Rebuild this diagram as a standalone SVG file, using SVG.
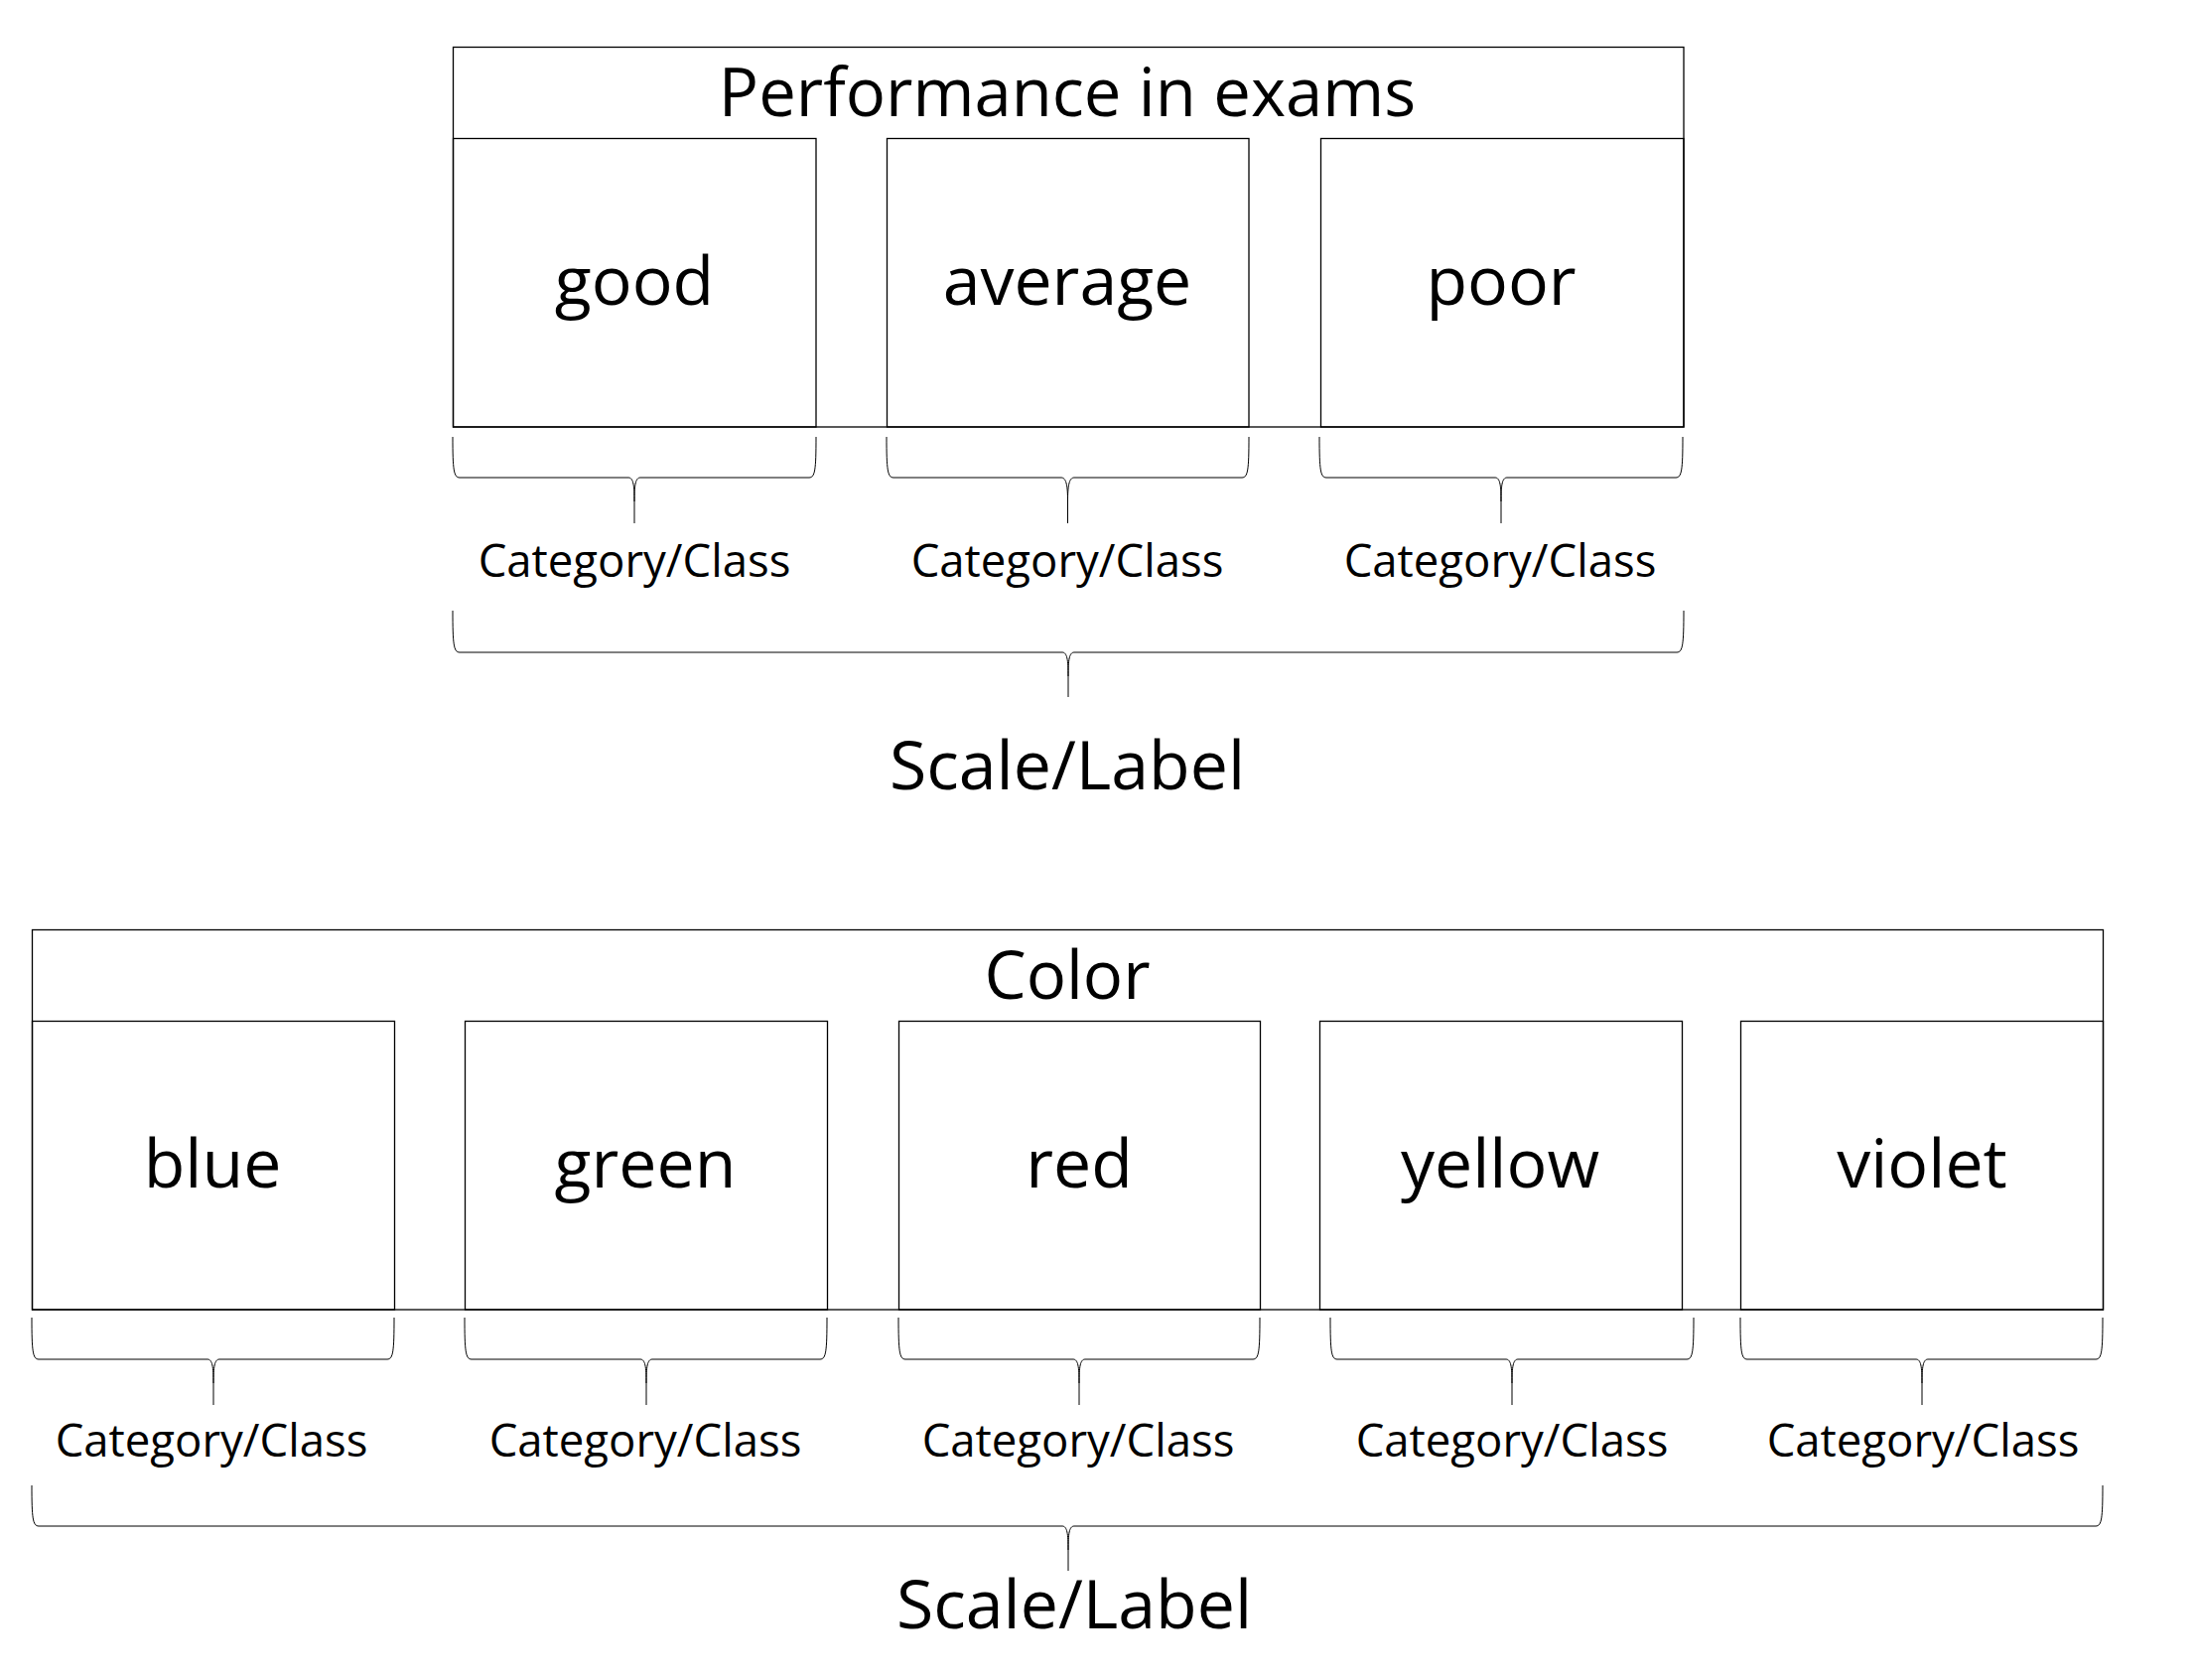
<svg xmlns="http://www.w3.org/2000/svg" width="2212" height="1692" viewBox="0 0 2212 1692">
<style>
.frame{fill:none;stroke:#000;stroke-width:1.3}
.box{fill:none;stroke:#000;stroke-width:1.3}
.brace{fill:none;stroke:#000;stroke-width:1}
.t{font-family:"Open Sans","Noto Sans",sans-serif;fill:#000;text-anchor:middle}
.big{font-size:68px}
.head{font-size:67px}
.small{font-size:45.5px}
</style>
<rect x="0" y="0" width="2212" height="1692" fill="#fff"/>

<!-- Top section -->
<g id="performance">
  <rect class="frame" x="456.5" y="47.5" width="1239.5" height="382.5"/>
  <text class="t head" x="1075" y="117">Performance in exams</text>
</g>
<g id="good">
  <rect class="box" x="456.5" y="139.5" width="365.5" height="290.5"/>
  <text class="t big" x="639" y="307">good</text>
</g>
<g id="average">
  <rect class="box" x="893.5" y="139.5" width="364.5" height="290.5"/>
  <text class="t big" x="1075" y="307">average</text>
</g>
<g id="poor">
  <rect class="box" x="1330.5" y="139.5" width="365.5" height="290.5"/>
  <text class="t big" x="1512" y="307">poor</text>
</g>
<g id="top-labels">
  <text class="t small" x="639" y="581">Category/Class</text>
  <text class="t small" x="1075" y="581">Category/Class</text>
  <text class="t small" x="1511" y="581">Category/Class</text>
  <text class="t big" x="1075" y="795">Scale/Label</text>
</g>

<!-- Bottom section -->
<g id="color">
  <rect class="frame" x="32.5" y="936.5" width="2086" height="382.5"/>
  <text class="t head" x="1075" y="1006">Color</text>
</g>
<g id="blue">
  <rect class="box" x="32.5" y="1028.5" width="365" height="290.5"/>
  <text class="t big" x="214" y="1196">blue</text>
</g>
<g id="green">
  <rect class="box" x="468.5" y="1028.5" width="365" height="290.5"/>
  <text class="t big" x="650" y="1196">green</text>
</g>
<g id="red">
  <rect class="box" x="905.5" y="1028.5" width="364" height="290.5"/>
  <text class="t big" x="1087" y="1196">red</text>
</g>
<g id="yellow">
  <rect class="box" x="1329.5" y="1028.5" width="365" height="290.5"/>
  <text class="t big" x="1511" y="1196">yellow</text>
</g>
<g id="violet">
  <rect class="box" x="1753.5" y="1028.5" width="365" height="290.5"/>
  <text class="t big" x="1936" y="1196">violet</text>
</g>
<g id="bottom-labels">
  <text class="t small" x="213" y="1467">Category/Class</text>
  <text class="t small" x="650" y="1467">Category/Class</text>
  <text class="t small" x="1086" y="1467">Category/Class</text>
  <text class="t small" x="1523" y="1467">Category/Class</text>
  <text class="t small" x="1937" y="1467">Category/Class</text>
  <text class="t big" x="1082" y="1640">Scale/Label</text>
</g>

<!-- Braces -->
<g id="connectors" class="brace">
  <path d="M456 440 C456 473 457 481 463 481 L633 481 C638 481 639 489 639 505 L639 527 M639 505 C639 489 640 481 645 481 L815 481 C821 481 822 473 822 440"/>
  <path d="M893 440 C893 473 894 481 900 481 L1069 481 C1074 481 1075.5 489 1075.5 505 L1075.5 527 M1075.5 505 C1075.5 489 1077 481 1082 481 L1251 481 C1257 481 1258 473 1258 440"/>
  <path d="M1329 440 C1329 473 1330 481 1336 481 L1506 481 C1511 481 1512 489 1512 505 L1512 527 M1512 505 C1512 489 1513 481 1518 481 L1688 481 C1694 481 1695 473 1695 440"/>
  <path d="M456 615 C456 649 457 657 463 657 L1070 657 C1075 657 1076 665 1076 681 L1076 702 M1076 681 C1076 665 1077 657 1082 657 L1689 657 C1695 657 1696 649 1696 615"/>

  <path d="M32 1327 C32 1361 33 1369 39 1369 L209 1369 C214 1369 215 1377 215 1393 L215 1415 M215 1393 C215 1377 216 1369 221 1369 L390 1369 C396 1369 397 1361 397 1327"/>
  <path d="M468 1327 C468 1361 469 1369 475 1369 L645 1369 C650 1369 651 1377 651 1393 L651 1415 M651 1393 C651 1377 652 1369 657 1369 L826 1369 C832 1369 833 1361 833 1327"/>
  <path d="M905 1327 C905 1361 906 1369 912 1369 L1081 1369 C1086 1369 1087 1377 1087 1393 L1087 1415 M1087 1393 C1087 1377 1088 1369 1093 1369 L1262 1369 C1268 1369 1269 1361 1269 1327"/>
  <path d="M1340 1327 C1340 1361 1341 1369 1347 1369 L1517 1369 C1522 1369 1523 1377 1523 1393 L1523 1415 M1523 1393 C1523 1377 1524 1369 1529 1369 L1699 1369 C1705 1369 1706 1361 1706 1327"/>
  <path d="M1753 1327 C1753 1361 1754 1369 1760 1369 L1930 1369 C1935 1369 1936 1377 1936 1393 L1936 1415 M1936 1393 C1936 1377 1937 1369 1942 1369 L2111 1369 C2117 1369 2118 1361 2118 1327"/>
  <path d="M32 1496 C32 1529 33 1537 39 1537 L1070 1537 C1075 1537 1076 1545 1076 1561 L1076 1582 M1076 1561 C1076 1545 1077 1537 1082 1537 L2111 1537 C2117 1537 2118 1529 2118 1496"/>
</g>
</svg>
